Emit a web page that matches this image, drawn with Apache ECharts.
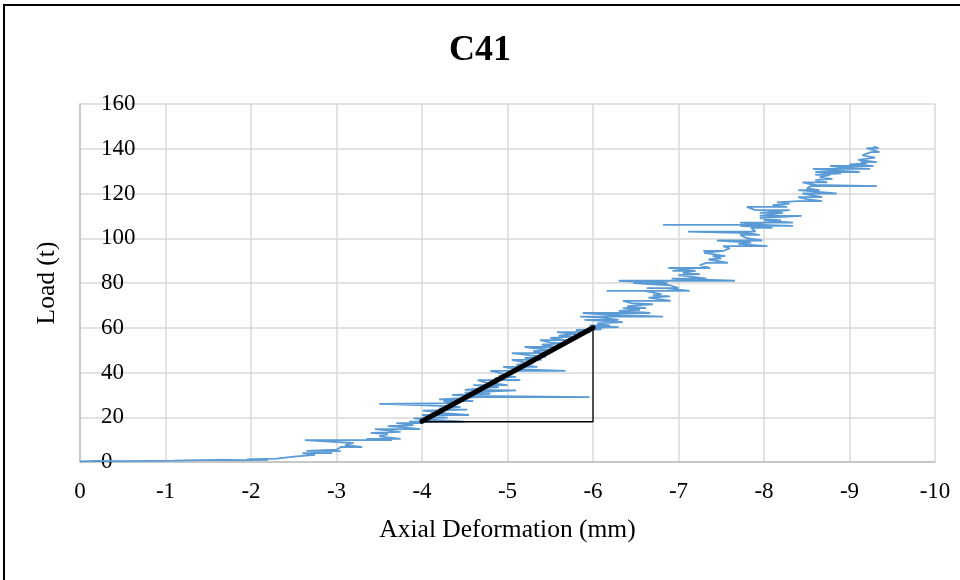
<!DOCTYPE html>
<html>
<head>
<meta charset="utf-8">
<script src="https://cdn.jsdelivr.net/npm/echarts@6/dist/echarts.min.js"></script>
<style>html,body{margin:0;padding:0;background:#fff}#c{width:960px;height:580px}</style>
</head>
<body>
<div id="c"></div>
<script>
// Axial deformation (mm), in recorded order
const deformation = [
 0,-0.2,-0.5,-0.8,-1.1,-1.4,-1.7,-1.9,-2.2,-1.95,
 -2.3,-2.5,-2.75,-2.6,-2.95,-2.7,-3.05,-2.65,-3.0,-3.05,
 -3.3,-3.1,-3.2,-2.63,-3.65,-3.35,-3.75,-3.5,-3.6,-3.4,
 -3.75,-3.45,-3.98,-3.8,-3.6,-3.9,-3.7,-4.0,-3.85,-4.05,
 -4.5,-4.05,-3.9,-4.3,-4.15,-4.0,-4.55,-4.2,-4.01,-4.53,
 -4.2,-4.45,-4.3,-3.5,-4.4,-4.25,-4.6,-4.45,-4.2,-4.67,
 -5.96,-4.6,-4.35,-4.8,-4.5,-5.1,-4.5,-4.7,-4.9,-4.6,
 -5.0,-4.75,-4.65,-5.15,-4.85,-5.1,-4.9,-5.0,-4.8,-5.68,
 -5.1,-4.95,-5.35,-5.1,-5.3,-5.2,-5.05,-5.4,-5.2,-5.45,
 -5.3,-5.05,-5.5,-5.3,-5.55,-5.4,-5.2,-5.58,-5.4,-5.65,
 -5.5,-5.38,-5.68,-5.5,-5.75,-5.6,-5.8,-5.58,-5.97,-5.8,
 -6.1,-6.0,-6.3,-6.02,-5.96,-6.2,-6.05,-6.35,-5.9,-6.3,
 -6.1,-5.85,-6.82,-6.2,-5.88,-6.67,-6.3,-6.55,-6.35,-6.62,
 -6.4,-6.5,-6.7,-6.45,-6.35,-6.91,-6.65,-6.9,-6.7,-6.8,
 -6.6,-6.16,-7.13,-6.85,-6.63,-7.0,-6.9,-6.47,-6.87,-6.3,
 -7.66,-6.92,-7.33,-7.0,-7.25,-7.05,-7.2,-6.93,-7.2,-6.88,
 -7.37,-7.25,-7.33,-7.58,-7.35,-7.5,-7.4,-7.55,-7.3,-7.5,
 -7.29,-7.52,-7.6,-7.52,-8.04,-7.7,-7.85,-7.45,-7.98,-7.8,
 -7.72,-7.95,-7.8,-7.11,-7.64,-7.9,-7.85,-8.1,-7.72,-8.34,
 -7.95,-6.82,-8.03,-7.72,-8.34,-8.0,-8.2,-7.95,-8.44,-7.95,
 -8.22,-7.95,-8.3,-7.9,-7.8,-8.27,-8.1,-8.3,-8.15,-8.4,
 -8.68,-8.5,-8.4,-8.68,-8.45,-8.85,-8.6,-8.4,-8.65,-8.5,
 -8.55,-9.32,-8.6,-8.45,-8.74,-8.6,-8.8,-8.65,-8.77,-8.6,
 -8.9,-8.6,-9.12,-8.8,-8.57,-9.24,-8.9,-8.77,-9.28,-9.0,
 -9.2,-9.13,-9.32,-9.1,-9.3,-9.15,-9.25,-9.35,-9.27,-9.2,
 -9.34,-9.28
];
// Load (t), same order
const load = [
 0.3,0.5,0.4,0.5,0.6,0.8,0.9,0.8,1.0,1.2,
 1.5,2.4,3.2,4.0,4.0,4.8,4.9,5.0,5.5,6.7,
 6.7,7.5,8.5,9.8,9.8,10.3,10.3,11.5,12.5,13.0,
 13.5,14.7,14.7,15.5,16,16.5,17.4,17.4,18,18,
 18,19,19.5,19.8,20,21,21,22,23,23.4,
 24,24.5,25,26,26.3,27.2,27.2,27.7,28,29,
 29,29.5,30,30.5,31,32,32.2,33,33.5,34.4,
 34.4,35.5,36.6,36.6,37.5,38,38.5,39,40.7,40.7,
 41.5,42.5,42.5,43.5,44,44.5,45.6,45.6,46.5,47,
 47.5,48.7,48.7,49.5,50,50.5,51.4,51.4,52.5,53,
 53.5,54.5,54.5,55.5,56,56.5,57.2,58,58,59,
 59.3,60,60.3,60.8,61,61,62,62.5,63.5,63.5,
 64.5,65,65,65.8,66.6,66.6,67.5,68,68.8,68.8,
 69.5,70,70.5,71,72,72,73.5,74,74.5,75,
 76.5,76.5,76.5,77.7,77.7,77.7,79,80,80,81,
 81,82,82,83.5,84,84.5,85.4,85.4,86.7,86.7,
 86.7,88,89,89,90.5,91,92,92,93.5,94.3,
 94.3,94.3,95.5,96.5,96.5,97.5,98,99,99,100,
 101.5,101.5,102.3,103,103,103,104.6,104.6,105.5,105.5,
 106,106,106,107,107,108,108,109,110,110,
 111.3,111.3,112.6,112.6,114,114,114.8,115.5,116,116.6,
 116.6,117.5,118.4,118.4,120,120,120.8,121.5,121.5,122.3,
 123.3,123.3,123.8,125,125,126,126.5,127.2,128.3,128.3,
 129,129.6,129.6,130.3,131,131,131.7,132.3,132.3,133,
 133.5,134,134,135,136,137,138.5,138.5,139.5,140.3,
 140.3,141
];
// Stiffness slope line and its triangle
const slopeX = [-4, -6];
const slopeY = [18.2, 60];
const triangleX = [-4, -6, -6];
const triangleY = [18, 18, 60];
const xTicks = {min: -10, max: 0, step: 1};
const yTicks = {min: 0, max: 160, step: 20};

const FONT = '"Liberation Serif","Times New Roman",serif';
const chart = echarts.init(document.getElementById('c'), null, {renderer: 'canvas'});
chart.setOption({
  animation: false,
  backgroundColor: '#fff',
  title: {
    text: 'C41', left: 'center', top: 28,
    textStyle: {fontFamily: FONT, fontSize: 36, fontWeight: 'bold', color: '#000'}
  },
  graphic: [{
    type: 'rect', shape: {x: 4, y: 5, width: 1000, height: 1000},
    style: {fill: 'none', stroke: '#000', lineWidth: 2}, silent: true, z: 100
  }],
  grid: {left: 80, right: 25, top: 104, bottom: 118, containLabel: false},
  xAxis: {
    type: 'value', inverse: true, min: xTicks.min, max: xTicks.max, interval: xTicks.step,
    name: 'Axial Deformation (mm)', nameLocation: 'middle', nameGap: 55,
    nameTextStyle: {fontFamily: FONT, fontSize: 25.5, color: '#000'},
    axisLine: {show: true, lineStyle: {color: '#bfbfbf', width: 1.5}},
    axisTick: {show: false},
    axisLabel: {fontFamily: FONT, fontSize: 23, color: '#000', margin: 18},
    splitLine: {show: true, lineStyle: {color: '#d9d9d9', width: 1.5}}
  },
  yAxis: {
    type: 'value', min: yTicks.min, max: yTicks.max, interval: yTicks.step,
    name: 'Load (t)', nameLocation: 'middle', nameGap: 20, nameRotate: 90,
    nameTextStyle: {fontFamily: FONT, fontSize: 25.5, color: '#000'},
    axisLine: {show: true, lineStyle: {color: '#bfbfbf', width: 1.5}},
    axisTick: {show: false},
    axisLabel: {inside: true, margin: 21, align: 'left', fontFamily: FONT, fontSize: 23, color: '#000'},
    splitLine: {show: true, lineStyle: {color: '#d9d9d9', width: 1.5}}
  },
  series: [
    {
      type: 'line', showSymbol: false, symbol: 'none',
      data: deformation.map((x, i) => [x, load[i]]),
      lineStyle: {color: '#5b9bd5', width: 1.8}, z: 2
    },
    {
      type: 'line', showSymbol: false, symbol: 'none',
      data: triangleX.map((x, i) => [x, triangleY[i]]),
      lineStyle: {color: '#000', width: 1.3}, z: 3
    },
    {
      type: 'line', showSymbol: false, symbol: 'none',
      data: slopeX.map((x, i) => [x, slopeY[i]]),
      lineStyle: {color: '#000', width: 5, cap: 'round'}, z: 4
    }
  ]
});
</script>
</body>
</html>
